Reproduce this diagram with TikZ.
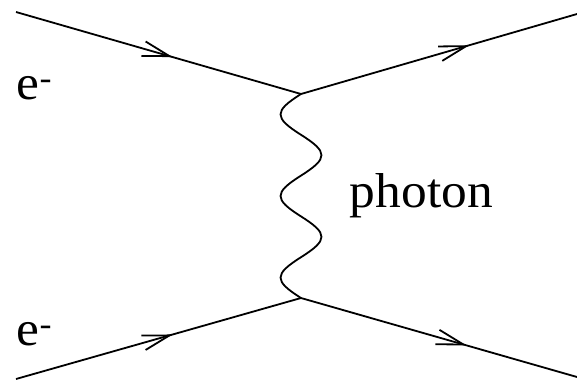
\documentclass[tikz,border=0pt]{standalone}
\usepackage{fontspec}
\setmainfont{Liberation Serif}
\usetikzlibrary{arrows.meta,decorations.markings}
\begin{document}
\begin{tikzpicture}[x=1pt,y=-1pt,
  line width=1.8pt, line join=round,
  fermion/.style={postaction={decorate},
    decoration={markings, mark=at position #1 with
      {\arrow{Straight Barb[length=27pt,width=15pt,line width=1.8pt]}}}},
  photon/.style={line width=1.8pt},
  lbl/.style={inner sep=0pt, font=\fontsize{49}{55}\selectfont}]
  \useasboundingbox (0,0) rectangle (577,381);

  % external legs and vertices
  \coordinate (inTop)  at (16,12);
  \coordinate (outTop) at (577,14);
  \coordinate (inBot)  at (16,379);
  \coordinate (outBot) at (577,377);
  \coordinate (vTop)   at (301,94);
  \coordinate (vBot)   at (301,298);

  % electron lines
  \draw[fermion=0.55] (inTop) -- (vTop);
  \draw[fermion=0.61] (vTop) -- (outTop);
  \draw[fermion=0.55] (inBot) -- (vBot);
  \draw[fermion=0.60] (vBot) -- (outBot);

  % exchanged photon: five half-waves of a sine
  \draw[photon] (vTop)
    .. controls +(-27.3,17.3) and +(-27.3,-17.3) .. ++(0,40.8)
    .. controls +( 27.3,17.3) and +( 27.3,-17.3) .. ++(0,40.8)
    .. controls +(-27.3,17.3) and +(-27.3,-17.3) .. ++(0,40.8)
    .. controls +( 27.3,17.3) and +( 27.3,-17.3) .. ++(0,40.8)
    .. controls +(-27.3,17.3) and +(-27.3,-17.3) .. (vBot);

  % labels
  \node[lbl, anchor=base west] (eIn)  at (16,99)  {\scalebox{1.05}[1]{e\textsuperscript{-}}};
  \node[lbl, anchor=base west] (eOut) at (16,345) {\scalebox{1.05}[1]{e\textsuperscript{-}}};
  \node[lbl, anchor=base west] (photonLbl) at (349,207) {\scalebox{1.05}[1]{photon}};
\end{tikzpicture}
\end{document}
